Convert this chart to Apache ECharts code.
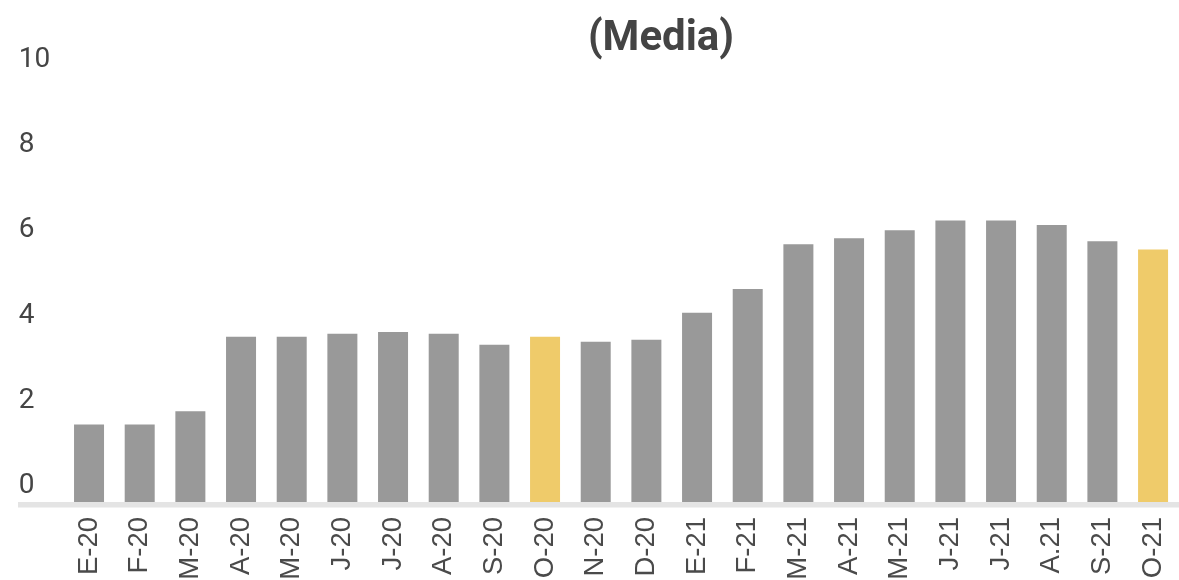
<!DOCTYPE html>
<html>
<head>
<meta charset="utf-8">
<script src="https://cdn.jsdelivr.net/npm/echarts@6/dist/echarts.min.js"></script>
<style>
html,body{margin:0;padding:0;background:#fff;}
#chart{width:1179px;height:580px;}
</style>
</head>
<body>
<div id="chart"></div>
<script>
const categories = ['E-20','F-20','M-20','A-20','M-20','J-20','J-20','A-20','S-20','O-20','N-20','D-20','E-21','F-21','M-21','A-21','M-21','J-21','J-21','A.21','S-21','O-21'];
const values = [1.82,1.82,2.13,3.88,3.88,3.95,3.99,3.95,3.69,3.88,3.76,3.81,4.44,5.0,6.05,6.19,6.38,6.61,6.61,6.50,6.12,5.93];
const highlighted = ['O-20','O-21'];
const yTicks = [0,2,4,6,8,10];
const title = '(Media)';

const chart = echarts.init(document.getElementById('chart'));
chart.setOption({
  animation: false,
  backgroundColor: '#ffffff',
  title: {
    text: title,
    left: 656, top: 13,
    textAlign: 'center',
    textStyle: {fontFamily: 'Roboto', fontWeight: 'bold', fontSize: 42, color: '#444444'}
  },
  grid: {left: 63.7, width: 1114.7, top: 76, bottom: 78, containLabel: false, outerBoundsMode: 'none'},
  xAxis: {
    type: 'category',
    data: categories,
    axisLine: {show: false},
    axisTick: {show: false},
    axisLabel: {
      rotate: 90, margin: 15, interval: 0,
      fontFamily: 'Liberation Sans', fontSize: 27.5, color: '#4a4a4a'
    }
  },
  yAxis: {
    type: 'value', min: yTicks[0], max: yTicks[yTicks.length-1], interval: 2,
    axisLine: {show: false}, axisTick: {show: false},
    splitLine: {show: false},
    axisLabel: {
      align: 'left', margin: 45, verticalAlign: 'bottom',
      lineHeight: 28,
      padding: [0,0,2,0],
      fontFamily: 'Roboto', fontSize: 28, color: '#454545'
    }
  },
  graphic: [{
    type: 'line', z: 0,
    shape: {x1: 18, y1: 504.8, x2: 1179, y2: 504.8},
    style: {stroke: '#e4e4e4', lineWidth: 5.5}
  }],
  series: [{
    type: 'bar',
    barWidth: 30,
    z: 2,
    data: values.map((v, i) => ({
      value: v,
      itemStyle: {color: highlighted.includes(categories[i]) ? '#efcb6a' : '#999999'}
    }))
  }]
});
</script>
</body>
</html>
